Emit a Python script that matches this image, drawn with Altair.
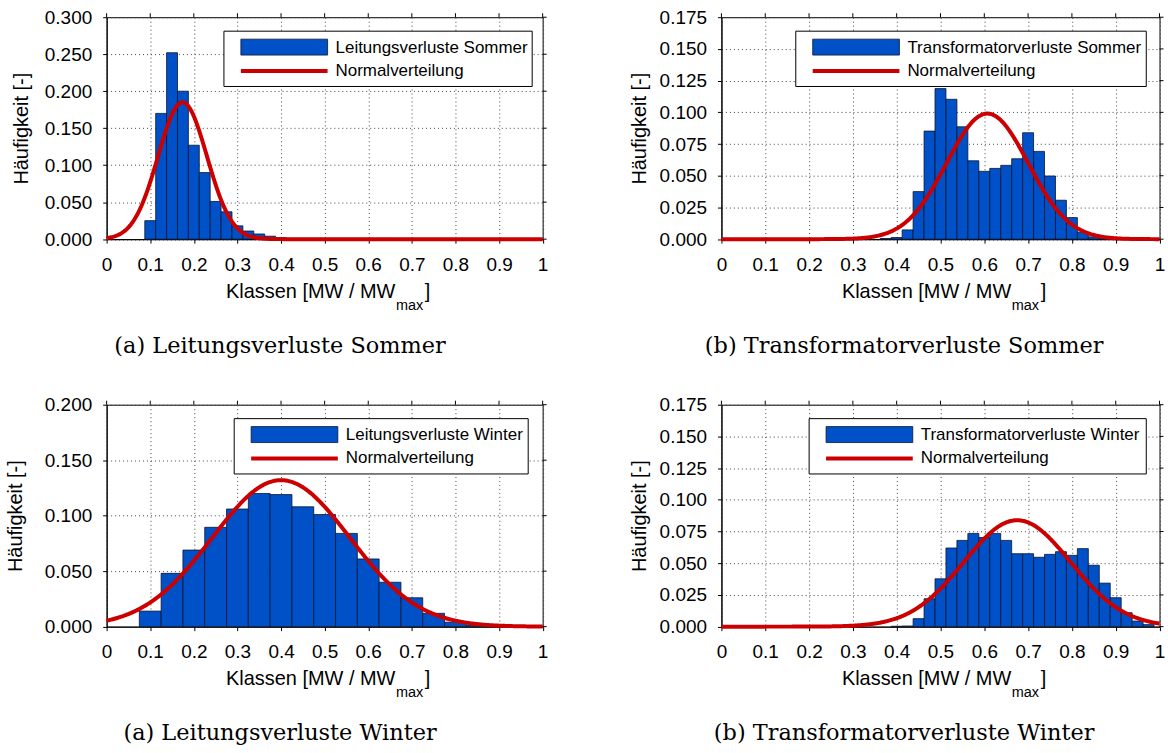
import altair as alt
import numpy as np
import pandas as pd

# ---------------------------------------------------------------------------
# Data: relative frequencies per class (class centres) and fitted normal curves
# ---------------------------------------------------------------------------
X_TICKS = [0.0, 0.1, 0.2, 0.3, 0.4, 0.5, 0.6, 0.7, 0.8, 0.9, 1.0]

# Leitungsverluste Sommer (class width 0.025)
ls_centers = [0.100, 0.125, 0.150, 0.175, 0.200, 0.225, 0.250, 0.275, 0.300, 0.325,
              0.350, 0.375, 0.400, 0.425, 0.450, 0.475, 0.500, 0.525, 0.550, 0.575,
              0.600, 0.625, 0.650]
ls_values = [0.025, 0.170, 0.252, 0.200, 0.127, 0.090, 0.051, 0.037, 0.018, 0.011,
             0.007, 0.004, 0.002, 0.001, 0.001, 0.001, 0.001, 0.001, 0.001, 0.001,
             0.001, 0.001, 0.001]
ls_fit = [0.174, 0.056, 0.185]          # mean, std, peak height
ls_yticks = [0.0, 0.05, 0.1, 0.15, 0.2, 0.25, 0.3]

# Transformatorverluste Sommer (class width 0.025)
ts_centers = [0.375, 0.400, 0.425, 0.450, 0.475, 0.500, 0.525, 0.550, 0.575, 0.600,
              0.625, 0.650, 0.675, 0.700, 0.725, 0.750, 0.775, 0.800, 0.825, 0.850,
              0.875]
ts_values = [0.0005, 0.0013, 0.0073, 0.0375, 0.0852, 0.1187, 0.1103, 0.0886, 0.0618,
             0.0535, 0.0558, 0.0582, 0.0634, 0.0839, 0.0692, 0.0498, 0.0307, 0.0170,
             0.0055, 0.0018, 0.0005]
ts_fit = [0.607, 0.093, 0.099]
ts_yticks = [0.0, 0.025, 0.05, 0.075, 0.1, 0.125, 0.15, 0.175]

# Leitungsverluste Winter (class width 0.05)
lw_centers = [0.10, 0.15, 0.20, 0.25, 0.30, 0.35, 0.40, 0.45, 0.50, 0.55, 0.60, 0.65,
              0.70, 0.75, 0.80, 0.85]
lw_values = [0.014, 0.048, 0.069, 0.0895, 0.106, 0.120, 0.119, 0.108, 0.101, 0.084,
             0.061, 0.040, 0.026, 0.012, 0.004, 0.001]
lw_fit = [0.400, 0.158, 0.132]
lw_yticks = [0.0, 0.05, 0.1, 0.15, 0.2]

# Transformatorverluste Winter (class width 0.025)
tw_centers = [0.400, 0.425, 0.450, 0.475, 0.500, 0.525, 0.550, 0.575, 0.600, 0.625,
              0.650, 0.675, 0.700, 0.725, 0.750, 0.775, 0.800, 0.825, 0.850, 0.875,
              0.900, 0.925, 0.950, 0.975]
tw_values = [0.0003, 0.0005, 0.0063, 0.0220, 0.0377, 0.0620, 0.0680, 0.0735, 0.0703,
             0.0735, 0.0680, 0.0575, 0.0575, 0.0547, 0.0570, 0.0591, 0.0562, 0.0615,
             0.0484, 0.0343, 0.0228, 0.0110, 0.0044, 0.0016]
tw_fit = [0.675, 0.122, 0.0839]
tw_yticks = [0.0, 0.025, 0.05, 0.075, 0.1, 0.125, 0.15, 0.175]

# ---------------------------------------------------------------------------
# Styling
# ---------------------------------------------------------------------------
BLUE = "#0050C8"
EDGE = "#0B1530"
RED = "#CC0000"
SANS = "Liberation Sans"
SERIF = "DejaVu Serif"

COL1_W = 437.5
COL2_W = 439.6
PANEL_H = 222.7

one_row = pd.DataFrame({"k": [0]})


def panel(centers, values, bin_w, fit, y_ticks, series_label, caption,
          width, height, legend_left, legend_right, title_x, caption_x):
    bars = pd.DataFrame({
        "x0": [round(c - bin_w / 2, 4) for c in centers],
        "x1": [round(c + bin_w / 2, 4) for c in centers],
        "h": values,
        "base": [0.0] * len(values),
    })
    mean, sd, peak = fit
    xs = np.linspace(0.0, 1.0, 501)
    curve = pd.DataFrame({"x": xs, "h": peak * np.exp(-0.5 * ((xs - mean) / sd) ** 2)})

    xscale = alt.Scale(domain=[0, 1], nice=False, zero=False)
    yscale = alt.Scale(domain=[0, y_ticks[-1]], nice=False)
    xaxis = alt.Axis(values=X_TICKS, format=".1~f", title=None, grid=True,
                     labelFlush=False, labelOverlap=False, labelPadding=12)
    yaxis = alt.Axis(values=[round(v, 3) for v in y_ticks], format=".3f",
                     title="Häufigkeit [-]", titleX=title_x, titleY=height / 2,
                     titleAngle=270, titleAlign="center", titleBaseline="middle",
                     grid=True, labelFlush=False, labelOverlap=False, labelPadding=11)

    hist = alt.Chart(bars).mark_rect(color=BLUE, stroke=EDGE, strokeWidth=0.8).encode(
        x=alt.X("x0:Q", scale=xscale, axis=xaxis),
        x2="x1:Q",
        y=alt.Y("h:Q", scale=yscale, axis=yaxis),
        y2="base:Q",
    )
    normal = alt.Chart(curve).mark_line(color=RED, strokeWidth=4).encode(
        x=alt.X("x:Q", scale=xscale, axis=xaxis),
        y=alt.Y("h:Q", scale=yscale, axis=yaxis),
    )

    # outward tick marks on the top and right frame edges
    top_ticks = alt.Chart(pd.DataFrame({"t": X_TICKS})).mark_rule(
        color="black", strokeWidth=1).encode(
        x=alt.X("t:Q", scale=xscale, axis=xaxis),
        y=alt.value(0), y2=alt.value(-4),
    )
    right_ticks = alt.Chart(pd.DataFrame({"t": y_ticks})).mark_rule(
        color="black", strokeWidth=1).encode(
        y=alt.Y("t:Q", scale=yscale, axis=yaxis),
        x=alt.value(width), x2=alt.value(width + 4),
    )

    # legend
    box = alt.Chart(one_row).mark_rect(fill="white", stroke="black", strokeWidth=1).encode(
        x=alt.value(legend_left), x2=alt.value(legend_right),
        y=alt.value(14), y2=alt.value(69.5),
    )
    swatch = alt.Chart(one_row).mark_rect(fill=BLUE, stroke=EDGE, strokeWidth=0.8).encode(
        x=alt.value(legend_left + 17), x2=alt.value(legend_left + 104),
        y=alt.value(22), y2=alt.value(38),
    )
    swatch_line = alt.Chart(one_row).mark_rule(color=RED, strokeWidth=4).encode(
        x=alt.value(legend_left + 17), x2=alt.value(legend_left + 104),
        y=alt.value(54),
    )
    leg_text1 = alt.Chart(one_row).mark_text(
        text=series_label, font=SANS, fontSize=17, color="black",
        align="left", baseline="middle").encode(
        x=alt.value(legend_left + 112), y=alt.value(30.5))
    leg_text2 = alt.Chart(one_row).mark_text(
        text="Normalverteilung", font=SANS, fontSize=17, color="black",
        align="left", baseline="middle").encode(
        x=alt.value(legend_left + 112), y=alt.value(53.5))

    # x-axis title with subscript
    cx = width / 2
    xt_main = alt.Chart(one_row).mark_text(
        text="Klassen [MW / MW", font=SANS, fontSize=20, color="black",
        align="right", baseline="alphabetic").encode(
        x=alt.value(cx + 71), y=alt.value(height + 59))
    xt_sub = alt.Chart(one_row).mark_text(
        text="max", font=SANS, fontSize=14.5, color="black",
        align="left", baseline="alphabetic").encode(
        x=alt.value(cx + 71.5), y=alt.value(height + 71))
    xt_close = alt.Chart(one_row).mark_text(
        text="]", font=SANS, fontSize=20, color="black",
        align="left", baseline="alphabetic").encode(
        x=alt.value(cx + 100.5), y=alt.value(height + 59))

    cap = alt.Chart(one_row).mark_text(
        text=caption, font=SERIF, fontSize=22.5, color="black",
        align="center", baseline="alphabetic").encode(
        x=alt.value(caption_x), y=alt.value(height + 114))

    return alt.layer(
        hist, normal, top_ticks, right_ticks,
        box, swatch, swatch_line, leg_text1, leg_text2,
        xt_main, xt_sub, xt_close, cap,
    ).properties(width=width, height=height)


p_a = panel(ls_centers, ls_values, 0.025, ls_fit, ls_yticks,
            "Leitungsverluste Sommer", "(a) Leitungsverluste Sommer",
            COL1_W, PANEL_H, 117.7, 427.0, -85, 174)
p_b = panel(ts_centers, ts_values, 0.025, ts_fit, ts_yticks,
            "Transformatorverluste Sommer", "(b) Transformatorverluste Sommer",
            COL2_W, PANEL_H, 74.6, 426.3, -82, 183.3)
p_c = panel(lw_centers, lw_values, 0.05, lw_fit, lw_yticks,
            "Leitungsverluste Winter", "(a) Leitungsverluste Winter",
            COL1_W, PANEL_H, 128.0, 423.0, -91, 174)
p_d = panel(tw_centers, tw_values, 0.025, tw_fit, tw_yticks,
            "Transformatorverluste Winter", "(b) Transformatorverluste Winter",
            COL2_W, PANEL_H, 88.0, 426.3, -82, 183.3)

chart = alt.concat(
    p_a, p_b, p_c, p_d,
    columns=2,
    spacing=alt.RowColnumber(row=165.8, column=178.9),
    bounds="flush",
).properties(
    padding={"left": 5, "top": 6, "right": 0, "bottom": 0},
    background="white",
).configure_view(
    stroke="black", strokeWidth=1,
).configure_axis(
    labelFont=SANS, labelFontSize=19, labelColor="black",
    titleFont=SANS, titleFontSize=20, titleFontWeight="normal", titleColor="black",
    tickColor="black", tickSize=4, tickWidth=1,
    domainColor="black", domainWidth=1,
    gridColor="#444444", gridDash=[1, 3], gridWidth=1, gridOpacity=1,
)

chart.save("out.html", embed_options={"renderer": "svg", "actions": False})
